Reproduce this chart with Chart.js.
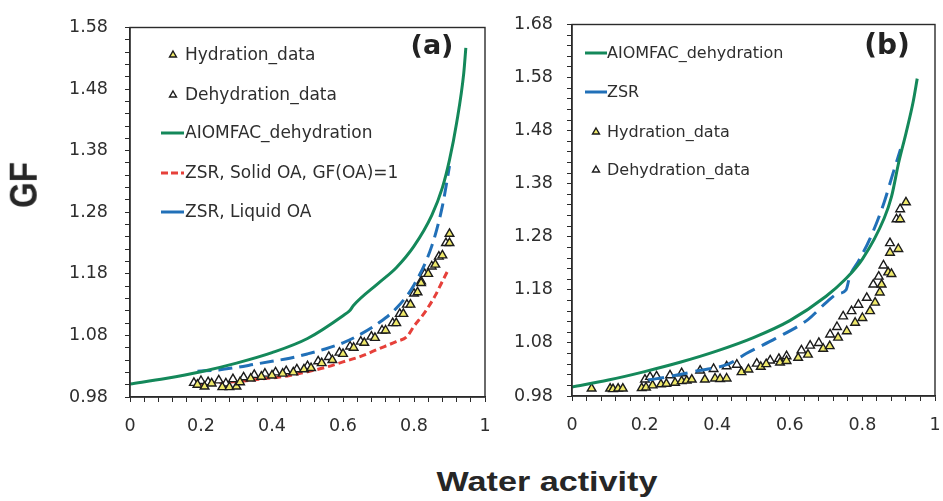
<!DOCTYPE html>
<html>
<head>
<meta charset="utf-8">
<script src="https://cdn.jsdelivr.net/npm/chart.js@4.4.0/dist/chart.umd.min.js"></script>
<style>
  body { margin: 0; background: #fff; width: 943px; height: 501px; position: relative; overflow: hidden; }
  canvas { position: absolute; top: 0; }
  #cA { left: 0; }
  #cB { left: 500px; }
  .axt { position: absolute; font-family: "Liberation Sans", Arial, sans-serif; font-weight: bold; color: #262626; line-height: 1; white-space: nowrap; }
  #gf { left: 23px; top: 185px; font-size: 33px; transform: translate(-50%, -50%) rotate(-90deg) scaleY(1.15); }
  #wa { left: 547px; top: 482px; font-size: 28px; transform: translate(-50%, -50%) scaleX(1.22); }
</style>
</head>
<body>
<canvas id="cA" width="500" height="445"></canvas>
<canvas id="cB" width="443" height="445"></canvas>
<div class="axt" id="gf">GF</div>
<div class="axt" id="wa">Water activity</div>
<script>
// ---- panel (a) ----
const aAiomfacX = [0, 0.1, 0.2, 0.3, 0.4, 0.5, 0.6, 0.62, 0.63, 0.7, 0.75, 0.8, 0.85, 0.88, 0.9, 0.92, 0.94, 0.946];
const aAiomfacY = [1.001, 1.010, 1.021, 1.035, 1.052, 1.075, 1.112, 1.121, 1.129, 1.165, 1.19, 1.225, 1.275, 1.32, 1.365, 1.425, 1.505, 1.547];

const aZsrSolidX = [0.19, 0.25, 0.3, 0.35, 0.4, 0.45, 0.5, 0.55, 0.6, 0.65, 0.7, 0.75, 0.78, 0.8, 0.83, 0.86, 0.88, 0.895];
const aZsrSolidY = [1.001, 1.003, 1.005, 1.008, 1.011, 1.015, 1.021, 1.028, 1.037, 1.046, 1.058, 1.070, 1.078, 1.095, 1.117, 1.145, 1.168, 1.185];

const aZsrLiqX = [0.19, 0.25, 0.3, 0.35, 0.4, 0.45, 0.5, 0.55, 0.6, 0.65, 0.7, 0.75, 0.8, 0.85, 0.88, 0.9];
const aZsrLiqY = [1.022, 1.024, 1.028, 1.033, 1.038, 1.043, 1.05, 1.058, 1.068, 1.082, 1.10, 1.124, 1.162, 1.225, 1.29, 1.355];

const aHydX = [0.19, 0.21, 0.23, 0.26, 0.28, 0.30, 0.31, 0.34, 0.37, 0.40, 0.43, 0.46, 0.49, 0.51, 0.54, 0.57, 0.60, 0.63, 0.66, 0.69, 0.72, 0.75, 0.77, 0.79, 0.81, 0.82, 0.84, 0.86, 0.88, 0.90, 0.90];
const aHydY = [1.000, 0.997, 1.002, 0.996, 0.996, 0.997, 1.004, 1.010, 1.013, 1.015, 1.018, 1.020, 1.025, 1.027, 1.035, 1.040, 1.050, 1.060, 1.068, 1.076, 1.088, 1.100, 1.115, 1.130, 1.150, 1.165, 1.180, 1.195, 1.210, 1.230, 1.245];

const aDehX = [0.18, 0.20, 0.22, 0.25, 0.27, 0.29, 0.32, 0.35, 0.38, 0.41, 0.44, 0.47, 0.50, 0.53, 0.56, 0.59, 0.62, 0.65, 0.68, 0.71, 0.74, 0.76, 0.78, 0.80, 0.82, 0.83, 0.85, 0.87, 0.89];
const aDehY = [1.003, 1.006, 1.004, 1.007, 1.002, 1.009, 1.012, 1.016, 1.018, 1.020, 1.022, 1.025, 1.030, 1.038, 1.045, 1.052, 1.062, 1.070, 1.078, 1.088, 1.100, 1.115, 1.130, 1.148, 1.168, 1.180, 1.192, 1.208, 1.230];

// ---- panel (b) ----
const bAiomfacX = [0, 0.1, 0.2, 0.3, 0.4, 0.5, 0.6, 0.7, 0.75, 0.8, 0.86, 0.88, 0.9, 0.92, 0.94, 0.951];
const bAiomfacY = [0.997, 1.010, 1.026, 1.044, 1.065, 1.090, 1.122, 1.168, 1.198, 1.238, 1.315, 1.355, 1.42, 1.475, 1.535, 1.578];

const bZsrX = [0.21, 0.27, 0.35, 0.43, 0.48, 0.56, 0.65, 0.70, 0.73, 0.755, 0.765, 0.79, 0.82, 0.86, 0.88, 0.905];
const bZsrY = [1.010, 1.017, 1.028, 1.040, 1.060, 1.088, 1.124, 1.156, 1.172, 1.180, 1.205, 1.235, 1.275, 1.345, 1.39, 1.445];

const bHydX = [0.054, 0.105, 0.113, 0.127, 0.14, 0.192, 0.204, 0.222, 0.245, 0.26, 0.284, 0.302, 0.316, 0.33, 0.366, 0.394, 0.408, 0.426, 0.467, 0.486, 0.52, 0.535, 0.573, 0.591, 0.623, 0.65, 0.692, 0.71, 0.733, 0.757, 0.78, 0.80, 0.821, 0.835, 0.848, 0.853, 0.871, 0.88, 0.876, 0.899, 0.904, 0.92];
const bHydY = [0.994, 0.994, 0.993, 0.994, 0.994, 0.995, 0.996, 1.000, 1.002, 1.003, 1.005, 1.008, 1.009, 1.011, 1.011, 1.013, 1.012, 1.013, 1.025, 1.030, 1.035, 1.040, 1.043, 1.046, 1.052, 1.058, 1.069, 1.074, 1.090, 1.102, 1.118, 1.127, 1.140, 1.156, 1.175, 1.190, 1.213, 1.21, 1.25, 1.257, 1.313, 1.345];

const bDehX = [0.201, 0.215, 0.233, 0.27, 0.302, 0.353, 0.39, 0.426, 0.454, 0.509, 0.546, 0.57, 0.591, 0.632, 0.656, 0.68, 0.711, 0.73, 0.747, 0.77, 0.789, 0.812, 0.83, 0.845, 0.858, 0.876, 0.894, 0.904];
const bDehY = [1.011, 1.016, 1.017, 1.019, 1.023, 1.028, 1.031, 1.036, 1.039, 1.041, 1.047, 1.050, 1.055, 1.066, 1.075, 1.080, 1.096, 1.110, 1.130, 1.140, 1.152, 1.165, 1.190, 1.205, 1.226, 1.268, 1.313, 1.332];

const xTicks = [0, 0.2, 0.4, 0.6, 0.8, 1];
const aYTicks = [0.98, 1.08, 1.18, 1.28, 1.38, 1.48, 1.58];
const bYTicks = [0.98, 1.08, 1.18, 1.28, 1.38, 1.48, 1.58, 1.68];

const GREEN = "#14885a";
const BLUE = "#2170b8";
const RED = "#e6403a";
const YELLOW = "#efe96a";
const EDGE = "#1c1c1c";
const TXT = "#2e2e2e";

function pts(xs, ys) {
  return xs.map((x, i) => ({ x: x, y: ys[i] }));
}

function lineSet(label, xs, ys, color, dash) {
  return {
    label: label,
    data: pts(xs, ys),
    showLine: true,
    borderColor: color,
    backgroundColor: color,
    borderWidth: 3,
    borderDash: dash,
    pointRadius: 0,
    cubicInterpolationMode: "monotone",
  };
}

function markerSet(label, xs, ys, fill) {
  return {
    label: label,
    data: pts(xs, ys),
    showLine: false,
    pointStyle: "triangle",
    pointRadius: 5,
    pointBackgroundColor: fill,
    pointBorderColor: EDGE,
    pointBorderWidth: 1.4,
  };
}

// frame round the plot area, legend rows and the panel letter
const panelDecor = {
  id: "panelDecor",
  afterDraw(chart, args, o) {
    const ctx = chart.ctx;
    const a = chart.chartArea;
    ctx.save();
    ctx.strokeStyle = "#2b2b2b";
    ctx.lineWidth = 1.4;
    ctx.strokeRect(a.left, a.top, a.right - a.left, a.bottom - a.top);

    ctx.font = o.font;
    ctx.fillStyle = TXT;
    ctx.textBaseline = "middle";
    ctx.textAlign = "left";
    o.rows.forEach((r) => {
      const ds = chart.data.datasets[r.ds];
      if (ds.showLine) {
        ctx.save();
        ctx.strokeStyle = ds.borderColor;
        ctx.lineWidth = 3;
        ctx.setLineDash(r.dash || []);
        ctx.beginPath();
        ctx.moveTo(o.lineX0, r.y);
        ctx.lineTo(o.lineX1, r.y);
        ctx.stroke();
        ctx.restore();
      } else {
        ctx.save();
        ctx.fillStyle = ds.pointBackgroundColor;
        ctx.strokeStyle = EDGE;
        Chart.helpers.drawPoint(ctx, { pointStyle: "triangle", radius: 4, borderWidth: 1.2 }, o.markX, r.y);
        ctx.restore();
      }
      ctx.fillText(ds.label, o.textX, r.y + 1);
    });

    ctx.font = o.tagFont;
    ctx.fillStyle = "#222";
    ctx.textAlign = "center";
    ctx.fillText(o.tag, o.tagX, o.tagY);
    ctx.restore();
  },
};

function makePanel(id, datasets, yMin, yMax, yTicks, box, decor) {
  const tickFont = { family: "DejaVu Sans", size: 17.5 };
  return new Chart(document.getElementById(id), {
    type: "scatter",
    data: { datasets: datasets },
    plugins: [panelDecor],
    options: {
      responsive: false,
      animation: false,
      devicePixelRatio: 1,
      layout: { padding: { left: 0, right: box.right, top: box.top, bottom: 0 } },
      plugins: { legend: { display: false }, tooltip: { enabled: false }, panelDecor: decor },
      scales: {
        x: {
          type: "linear",
          min: 0,
          max: 1,
          afterFit: (s) => {
            s.height = box.xh;
            // tick padding otherwise widens the side margins
            s.paddingLeft = 6;
            s.paddingRight = 6;
          },
          border: { color: "#2b2b2b", width: 1.4 },
          grid: { drawOnChartArea: false, tickLength: 5, tickColor: "#2b2b2b" },
          ticks: {
            stepSize: 0.04,
            autoSkip: false,
            maxRotation: 0,
            minRotation: 0,
            padding: 14,
            color: TXT,
            font: tickFont,
            callback: (v) => {
              const hit = xTicks.find((t) => Math.abs(t - v) < 1e-6);
              return hit === undefined ? "" : String(hit);
            },
          },
        },
        y: {
          type: "linear",
          min: yMin,
          max: yMax,
          afterFit: (s) => { s.width = box.yw; },
          border: { color: "#2b2b2b", width: 1.4 },
          grid: { drawOnChartArea: false, tickLength: 5, tickColor: "#2b2b2b" },
          ticks: {
            stepSize: 0.02,
            autoSkip: false,
            padding: box.ypad,
            color: TXT,
            font: tickFont,
            callback: (v) => {
              const hit = yTicks.find((t) => Math.abs(t - v) < 1e-6);
              return hit === undefined ? "" : hit.toFixed(2);
            },
          },
        },
      },
    },
  });
}

makePanel(
  "cA",
  [
    lineSet("AIOMFAC_dehydration", aAiomfacX, aAiomfacY, GREEN, []),
    lineSet("ZSR, Liquid OA", aZsrLiqX, aZsrLiqY, BLUE, [14, 7]),
    markerSet("Hydration_data", aHydX, aHydY, YELLOW),
    markerSet("Dehydration_data", aDehX, aDehY, "#ffffff"),
    lineSet("ZSR, Solid OA, GF(OA)=1", aZsrSolidX, aZsrSolidY, RED, [7, 4]),
  ],
  0.98, 1.58, aYTicks,
  { right: 15, top: 25, xh: 48, yw: 130, ypad: 17 },
  {
    font: "17px 'DejaVu Sans'",
    markX: 173, textX: 185, lineX0: 161, lineX1: 184,
    rows: [
      { ds: 2, y: 55 },
      { ds: 3, y: 95 },
      { ds: 0, y: 133 },
      { ds: 4, y: 173, dash: [7, 3] },
      { ds: 1, y: 212 },
    ],
    tag: "(a)", tagX: 432, tagY: 47, tagFont: "bold 27px 'DejaVu Sans'",
  }
);

makePanel(
  "cB",
  [
    lineSet("AIOMFAC_dehydration", bAiomfacX, bAiomfacY, GREEN, []),
    lineSet("ZSR", bZsrX, bZsrY, BLUE, [16, 8]),
    markerSet("Hydration_data", bHydX, bHydY, YELLOW),
    markerSet("Dehydration_data", bDehX, bDehY, "#ffffff"),
  ],
  0.98, 1.68, bYTicks,
  { right: 8, top: 23, xh: 49, yw: 72, ypad: 14 },
  {
    font: "16px 'DejaVu Sans'",
    markX: 96, textX: 107, lineX0: 85, lineX1: 107,
    rows: [
      { ds: 0, y: 53 },
      { ds: 1, y: 92 },
      { ds: 2, y: 132 },
      { ds: 3, y: 170 },
    ],
    tag: "(b)", tagX: 387, tagY: 47, tagFont: "bold 28px 'DejaVu Sans'",
  }
);
</script>
</body>
</html>
